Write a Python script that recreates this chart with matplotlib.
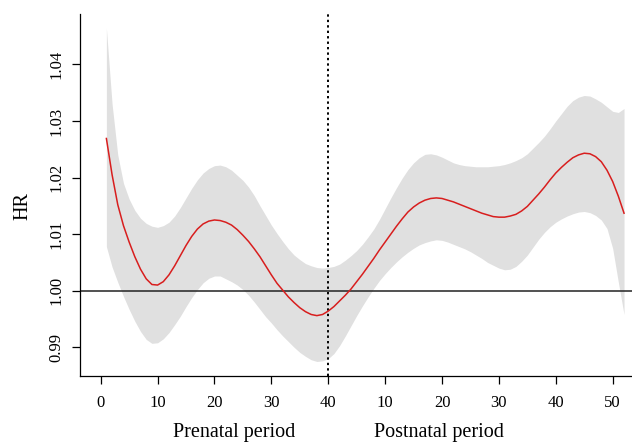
import matplotlib
matplotlib.use("Agg")
import matplotlib.pyplot as plt
import matplotlib.transforms as mtransforms

# Combined time axis: prenatal week w -> w ; postnatal week w -> 40 + w
weeks = list(range(1, 93))

hr = [1.0269, 1.0205, 1.0152, 1.0115, 1.0086, 1.0060, 1.0038, 1.0021, 1.0011, 1.0010,
      1.0016, 1.0028, 1.0044, 1.0062, 1.0080, 1.0096, 1.0109, 1.0118, 1.0123, 1.0125,
      1.0124, 1.0121, 1.0116, 1.0108, 1.0098, 1.0087, 1.0074, 1.0060, 1.0044, 1.0028,
      1.0013, 1.0001, 0.9989, 0.9979, 0.9970, 0.9963, 0.9958, 0.9956, 0.9958, 0.9964,
      0.9972, 0.9982, 0.9992, 1.0003, 1.0016, 1.0029, 1.0043, 1.0057, 1.0072, 1.0086,
      1.0100, 1.0114, 1.0127, 1.0139, 1.0148, 1.0155, 1.0160, 1.0163, 1.0164, 1.0163,
      1.0160, 1.0157, 1.0153, 1.0149, 1.0145, 1.0141, 1.0137, 1.0134, 1.0131, 1.0130,
      1.0130, 1.0132, 1.0135, 1.0141, 1.0149, 1.0160, 1.0171, 1.0183, 1.0196, 1.0208,
      1.0218, 1.0227, 1.0235, 1.0240, 1.0243, 1.0242, 1.0237, 1.0228, 1.0213, 1.0193,
      1.0167, 1.0137]

ci_upper = [1.0464, 1.0330, 1.0240, 1.0190, 1.0162, 1.0142, 1.0128, 1.0119, 1.0114, 1.0112,
            1.0115, 1.0121, 1.0132, 1.0147, 1.0164, 1.0181, 1.0196, 1.0208, 1.0216, 1.0221,
            1.0222, 1.0219, 1.0213, 1.0204, 1.0195, 1.0183, 1.0168, 1.0150, 1.0133, 1.0116,
            1.0101, 1.0087, 1.0074, 1.0063, 1.0055, 1.0048, 1.0044, 1.0041, 1.0040, 1.0041,
            1.0043, 1.0047, 1.0054, 1.0062, 1.0071, 1.0082, 1.0095, 1.0109, 1.0126, 1.0145,
            1.0164, 1.0182, 1.0199, 1.0214, 1.0226, 1.0235, 1.0241, 1.0242, 1.0240, 1.0236,
            1.0231, 1.0226, 1.0223, 1.0221, 1.0220, 1.0219, 1.0219, 1.0219, 1.0220, 1.0221,
            1.0223, 1.0226, 1.0230, 1.0235, 1.0242, 1.0252, 1.0262, 1.0273, 1.0286, 1.0300,
            1.0313, 1.0326, 1.0336, 1.0342, 1.0345, 1.0344, 1.0339, 1.0333, 1.0325, 1.0317,
            1.0315, 1.0322]

ci_lower = [1.0078, 1.0042, 1.0015, 0.9990, 0.9967, 0.9946, 0.9928, 0.9914, 0.9907, 0.9908,
            0.9915, 0.9926, 0.9940, 0.9955, 0.9972, 0.9988, 1.0002, 1.0014, 1.0022, 1.0026,
            1.0026, 1.0021, 1.0016, 1.0010, 1.0002, 0.9992, 0.9980, 0.9967, 0.9954, 0.9943,
            0.9931, 0.9920, 0.9910, 0.9900, 0.9891, 0.9884, 0.9878, 0.9875, 0.9876, 0.9880,
            0.9889, 0.9903, 0.9920, 0.9938, 0.9956, 0.9973, 0.9989, 1.0004, 1.0018, 1.0030,
            1.0041, 1.0051, 1.0060, 1.0068, 1.0075, 1.0081, 1.0085, 1.0088, 1.0090, 1.0089,
            1.0086, 1.0082, 1.0078, 1.0074, 1.0069, 1.0063, 1.0057, 1.0050, 1.0045, 1.0040,
            1.0037, 1.0038, 1.0043, 1.0052, 1.0063, 1.0077, 1.0091, 1.0103, 1.0113, 1.0121,
            1.0127, 1.0132, 1.0136, 1.0139, 1.0140, 1.0138, 1.0133, 1.0125, 1.0110, 1.0075,
            1.0015, 0.9958]

xtick_pos = [0, 10, 20, 30, 40, 50, 60, 70, 80, 90]
xtick_labels = ["0", "10", "20", "30", "40", "10", "20", "30", "40", "50"]
ytick_pos = [0.99, 1.00, 1.01, 1.02, 1.03, 1.04]
ytick_labels = ["0.99", "1.00", "1.01", "1.02", "1.03", "1.04"]
period_labels = ["Prenatal period", "Postnatal period"]
period_pos = [23.4, 59.5]
ref_hr = 1.0
birth_x = 40

plt.rcParams['font.family'] = ['Liberation Serif', 'DejaVu Serif']

fig = plt.figure(figsize=(6.32, 4.44), dpi=100)
ax = fig.add_axes([80/632, (444-376)/444, (632-80)/632, (376-14)/444])

ax.fill_between(weeks, ci_lower, ci_upper, color='#e0e0e0', linewidth=0)
ax.axhline(ref_hr, color='#222222', linewidth=1.1)
ax.axvline(birth_x, color='black', linestyle=(0, (1.2, 1.6)), linewidth=1.4)
ax.plot(weeks, hr, color='#d81e1e', linewidth=1.1)

ax.set_xlim(-3.64, 93.4)
ax.set_ylim(0.98493, 1.0489)

ax.set_xticks(xtick_pos)
ax.set_xticklabels(xtick_labels, fontsize=12)
ax.set_yticks(ytick_pos)
ax.set_yticklabels(ytick_labels, fontsize=12, rotation=90, va='center')
ax.tick_params(axis='both', direction='out', length=5.5, width=0.9, color='black')
ax.tick_params(axis='x', pad=8)
ax.tick_params(axis='y', pad=6)

for s in ['top', 'right']:
    ax.spines[s].set_visible(False)
for s in ['left', 'bottom']:
    ax.spines[s].set_linewidth(0.9)
    ax.spines[s].set_color('black')

trans = mtransforms.blended_transform_factory(ax.transData, ax.transAxes)
for lab, px in zip(period_labels, period_pos):
    ax.text(px, -0.1547, lab, transform=trans, ha='center', va='center', fontsize=14.5)

fig.text(23/632, 1 - 206/444, "HR", rotation=90, ha='center', va='center', fontsize=14.5)

fig.savefig("out.png", dpi=100)
